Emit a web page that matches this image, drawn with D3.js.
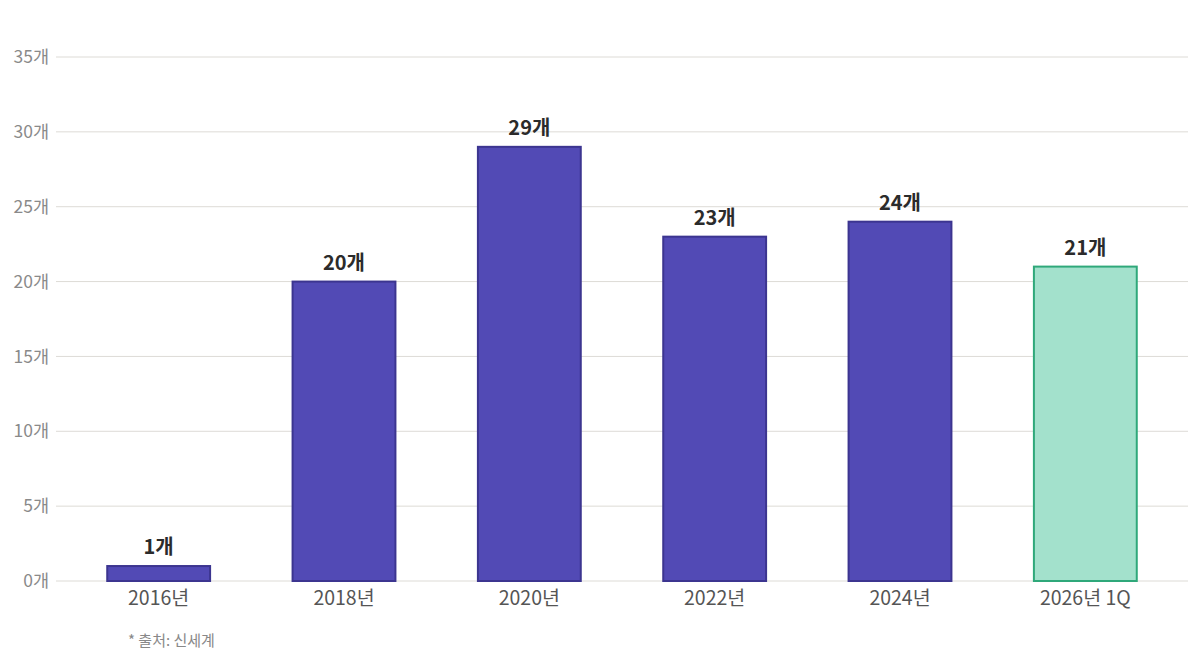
<!DOCTYPE html>
<html>
<head>
<meta charset="utf-8">
<script src="https://cdn.jsdelivr.net/npm/d3@7"></script>
<style>
  body { margin: 0; background: #fff; }
  text { font-family: "Noto Sans CJK KR", "Noto Sans", sans-serif; }
</style>
</head>
<body>
<div id="chart"></div>
<script>
const years = ["2016년", "2018년", "2020년", "2022년", "2024년", "2026년 1Q"];
const counts = [1, 20, 29, 23, 24, 21];
const yTicks = [0, 5, 10, 15, 20, 25, 30, 35];

const width = 1200, height = 663;

const svg = d3.select("#chart")
    .append("svg")
    .attr("width", width)
    .attr("height", height);

const x = d3.scaleBand()
    .domain(years)
    .range([66, 1178])
    .paddingInner(0.445)
    .paddingOuter(0.2225);

const y = d3.scaleLinear()
    .domain([0, 35])
    .range([581, 57]);

// gridlines
svg.append("g")
    .selectAll("line")
    .data(yTicks)
    .enter()
    .append("line")
    .attr("x1", 56)
    .attr("x2", 1188)
    .attr("y1", d => y(d))
    .attr("y2", d => y(d))
    .attr("stroke", "#dddbd6")
    .attr("stroke-width", 1);

// y tick labels
svg.append("g")
    .selectAll("text")
    .data(yTicks)
    .enter()
    .append("text")
    .attr("x", 49)
    .attr("y", d => y(d))
    .attr("dy", "0.35em")
    .attr("text-anchor", "end")
    .attr("fill", "#8a8a8a")
    .style("font-size", "17.5px")
    .text(d => d + "개");

// bars
svg.append("g")
    .selectAll("rect")
    .data(years)
    .enter()
    .append("rect")
    .attr("x", d => x(d))
    .attr("y", (d, i) => y(counts[i]))
    .attr("width", x.bandwidth())
    .attr("height", (d, i) => y(0) - y(counts[i]))
    .attr("fill", (d, i) => i === years.length - 1 ? "#a3e1cc" : "#524ab5")
    .attr("stroke", (d, i) => i === years.length - 1 ? "#2fa87a" : "#3c3590")
    .attr("stroke-width", 2);

// value labels
svg.append("g")
    .selectAll("text")
    .data(years)
    .enter()
    .append("text")
    .attr("x", d => x(d) + x.bandwidth() / 2)
    .attr("y", (d, i) => y(counts[i]) - 12)
    .attr("text-anchor", "middle")
    .attr("fill", "#2b2b2b")
    .style("font-size", "20px")
    .style("font-weight", "bold")
    .text((d, i) => counts[i] + "개");

// x axis labels
svg.append("g")
    .selectAll("text")
    .data(years)
    .enter()
    .append("text")
    .attr("x", d => x(d) + x.bandwidth() / 2)
    .attr("y", 605)
    .attr("text-anchor", "middle")
    .attr("fill", "#555")
    .style("font-size", "19.5px")
    .text(d => d);

// source
svg.append("text")
    .attr("x", 128)
    .attr("y", 646)
    .attr("fill", "#888")
    .style("font-size", "15px")
    .text("* 출처: 신세계");
</script>
</body>
</html>
